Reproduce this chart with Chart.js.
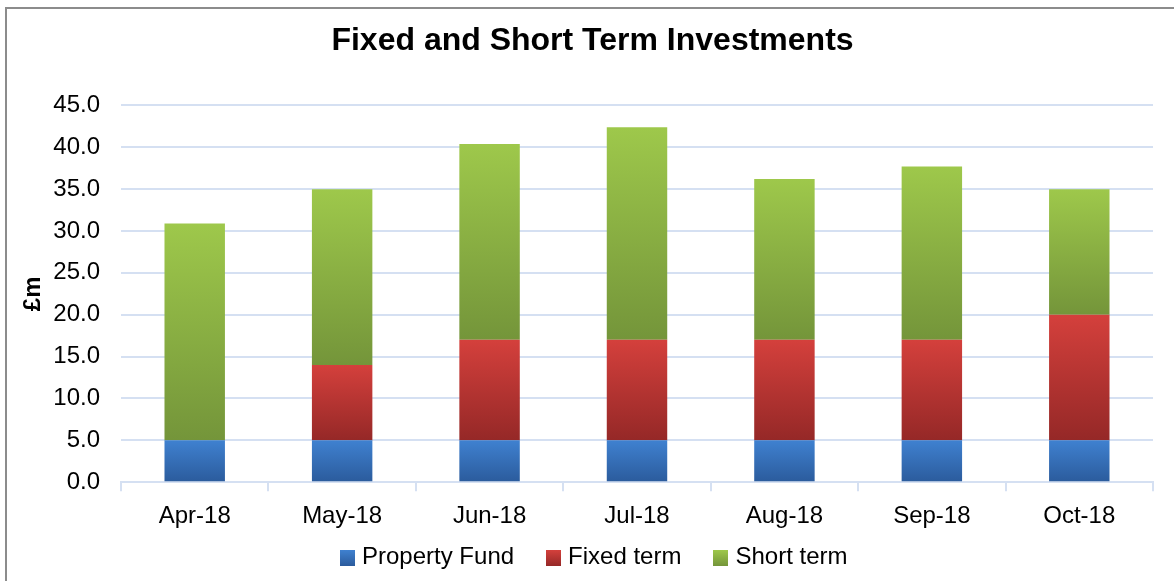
<!DOCTYPE html>
<html>
<head>
<meta charset="utf-8">
<script src="https://cdn.jsdelivr.net/npm/chart.js@4.4.1/dist/chart.umd.min.js"></script>
<style>
  html,body{margin:0;padding:0;background:#fff;}
  #frame{position:absolute;left:5px;top:7px;width:1180px;height:590px;border-left:2px solid #8c8c8c;border-top:2px solid #8c8c8c;}
  #wrap{position:absolute;left:0;top:0;width:1174px;height:581px;}
  #legend{position:absolute;left:340px;top:542px;height:28px;display:flex;align-items:center;white-space:nowrap;
    font-family:'Liberation Sans',Arial,sans-serif;font-size:24px;line-height:28px;color:#000;}
  #legend .item{display:flex;align-items:center;margin-right:32px;}
  #legend .item:last-child{margin-right:0;}
  #legend .box{width:15px;height:16px;margin-right:7px;position:relative;top:2px;}
</style>
</head>
<body>
<div id="frame"></div>
<div id="wrap"><canvas id="c"></canvas></div>
<div id="legend"></div>
<script>
/* ---- data ---- */
const months = ['Apr-18','May-18','Jun-18','Jul-18','Aug-18','Sep-18','Oct-18'];
const propertyFund = [5.0, 5.0, 5.0, 5.0, 5.0, 5.0, 5.0];
const fixedTerm    = [0.0, 9.0, 12.0, 12.0, 12.0, 12.0, 15.0];
const shortTerm    = [25.9, 21.0, 23.4, 25.4, 19.2, 20.7, 15.0];
const yTicks = [0,5,10,15,20,25,30,35,40,45];

const FONT = 'Liberation Sans, Arial, sans-serif';
const series = [
  {label:'Property Fund', data:propertyFund, top:'#3f81d0', bottom:'#2b5b9c'},
  {label:'Fixed term',    data:fixedTerm,    top:'#d4403c', bottom:'#952827'},
  {label:'Short term',    data:shortTerm,    top:'#9ec84b', bottom:'#74953a'},
];

// vertical gradient per bar segment, lighter at top
function barFill(s, di){
  return ctx => {
    const chart = ctx.chart, y = chart.scales.y;
    if(ctx.type !== 'data' || !y || !chart.chartArea) return s.top;
    let base = 0;
    for(let k=0;k<di;k++) base += series[k].data[ctx.dataIndex];
    const y0 = y.getPixelForValue(base), y1 = y.getPixelForValue(base + s.data[ctx.dataIndex]);
    if(!isFinite(y0) || !isFinite(y1) || y0 === y1) return s.top;
    const g = chart.ctx.createLinearGradient(0, y1, 0, y0);
    g.addColorStop(0, s.top); g.addColorStop(1, s.bottom);
    return g;
  };
}

// legend (html, so the item spacing can follow the original)
document.getElementById('legend').innerHTML = series.map(s =>
  `<div class="item"><div class="box" style="background:linear-gradient(${s.top},${s.bottom})"></div>${s.label}</div>`).join('');

new Chart(document.getElementById('c'), {
  type:'bar',
  data:{ labels:months, datasets: series.map((s,i)=>({
    label:s.label, data:s.data, backgroundColor:barFill(s,i),
    borderWidth:0, barPercentage:0.41, categoryPercentage:1.0
  }))},
  options:{
    responsive:true, maintainAspectRatio:false, animation:false,
    layout:{padding:{left:32, right:21, top:10, bottom:39}},
    plugins:{
      title:{display:true, text:'Fixed and Short Term Investments', color:'#000',
        font:{family:FONT, size:32, weight:'bold'}, padding:{top:12, bottom:45}},
      legend:{display:false},
      tooltip:{enabled:false}
    },
    scales:{
      x:{stacked:true, offset:true,
        grid:{drawOnChartArea:false, drawTicks:true, tickLength:9, color:'#d5e0f2', lineWidth:2, offset:true},
        border:{display:true, color:'#d5e0f2', width:2},
        ticks:{color:'#000', font:{family:FONT, size:24}, padding:11}},
      y:{stacked:true, min:0, max:45,
        afterBuildTicks: ax => { ax.ticks = yTicks.map(v=>({value:v})); },
        afterFit: ax => { ax.width = 89; },
        grid:{color:'#d5e0f2', lineWidth:2, drawTicks:false},
        border:{display:false},
        title:{display:true, text:'£m', color:'#000', font:{family:FONT, size:24, weight:'bold'}, padding:{top:-13, bottom:0}},
        ticks:{color:'#000', font:{family:FONT, size:24}, padding:21, callback:v=>Number(v).toFixed(1)}}
    }
  }
});
</script>
</body>
</html>
